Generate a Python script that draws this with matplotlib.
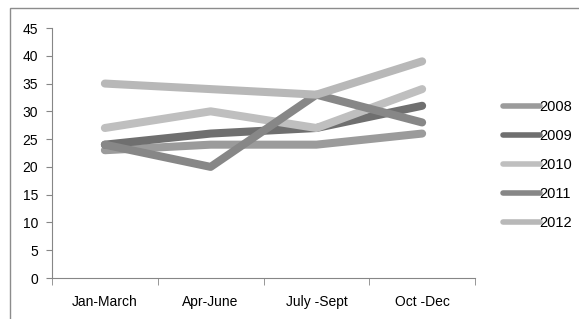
import matplotlib.pyplot as plt
from matplotlib.patches import Rectangle
import numpy as np

quarters = ['Jan-March', 'Apr-June', 'July -Sept', 'Oct -Dec']
years = ['2008', '2009', '2010', '2011', '2012']
s2008 = [23, 24, 24, 26]
s2009 = [24, 26, 27, 31]
s2010 = [27, 30, 27, 34]
s2011 = [24, 20, 33, 28]
s2012 = [35, 34, 33, 39]
colors = ['#9b9b9b', '#6f6f6f', '#bfbfbf', '#878787', '#b8b8b8']

plt.rcParams['font.family'] = ['Liberation Sans', 'DejaVu Sans']

fig = plt.figure(figsize=(5.79, 3.19), dpi=100)
# outer chart border
fig.patches.append(Rectangle((10 / 579, -0.05), 1.2, 1 - 8 / 319 + 0.05,
                             transform=fig.transFigure, fill=False,
                             edgecolor='#8c8c8c', linewidth=1.0))

ax = fig.add_axes([52 / 579, 1 - 278 / 319, (475 - 52) / 579, 250 / 319])
x = np.arange(len(quarters))
for name, vals, c in zip(years, [s2008, s2009, s2010, s2011, s2012], colors):
    ax.plot(x, vals, color=c, linewidth=5.8, solid_capstyle='round',
            solid_joinstyle='round', label=name)

ax.set_xlim(-0.5, len(quarters) - 0.5)
ax.set_ylim(0, 45)
ax.set_yticks(range(0, 46, 5))
ax.set_xticks(x)
ax.set_xticklabels(quarters)
ax.set_xticks(np.arange(-0.5, len(quarters)), minor=True)
ax.tick_params(axis='x', which='major', length=0, pad=12, labelsize=10)
ax.tick_params(axis='x', which='minor', length=5, color='#868686', direction='out')
ax.tick_params(axis='y', length=4, color='#868686', labelsize=10, pad=6)
for side in ['top', 'right']:
    ax.spines[side].set_visible(False)
for side in ['left', 'bottom']:
    ax.spines[side].set_color('#868686')

leg = ax.legend(loc='upper left', bbox_to_anchor=(496 / 579, 1 - 93 / 319),
                bbox_transform=fig.transFigure, frameon=False, fontsize=10.5,
                handlelength=2.5, handletextpad=0.0, labelspacing=1.03,
                borderpad=0)
for h in leg.get_lines():
    h.set_linewidth(4)

fig.savefig('out.png', dpi=100)
